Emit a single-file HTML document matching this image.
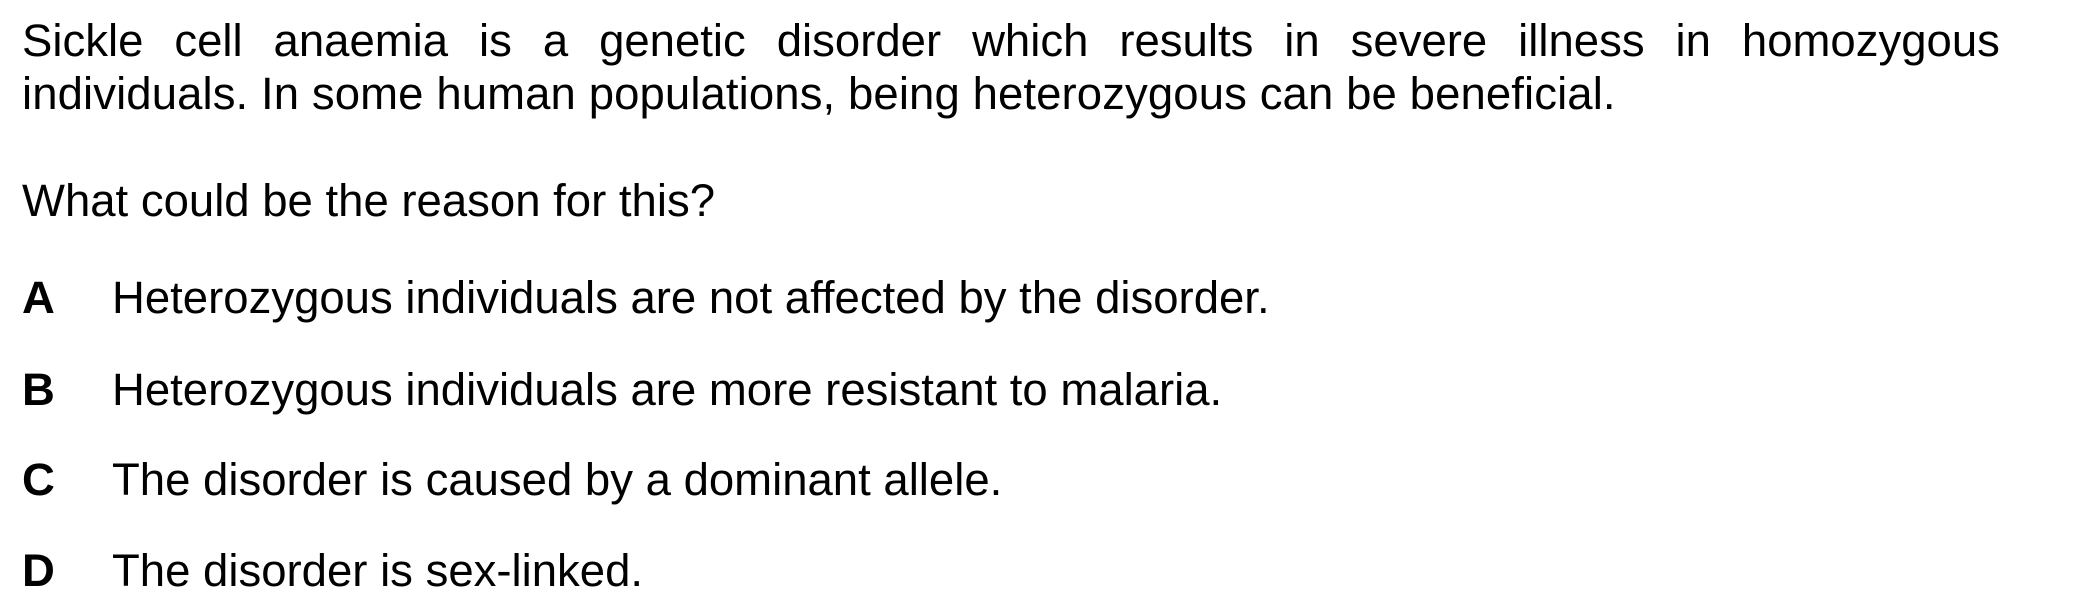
<!DOCTYPE html>
<html><head><meta charset="utf-8"><style>
html,body{margin:0;padding:0;background:#fff;}
body{width:2099px;height:611px;position:relative;overflow:hidden;font-family:"Liberation Sans",Arial,sans-serif;font-size:45.5px;color:#000;}
.t{position:absolute;white-space:nowrap;line-height:1;}
.p{position:absolute;left:22px;width:1978px;white-space:nowrap;line-height:1;}
.l{position:absolute;left:22px;font-weight:bold;line-height:1;}
.o{position:absolute;left:112px;line-height:1;white-space:nowrap;}
</style></head><body>
<div class="p" style="top:18px;display:flex;justify-content:space-between"><span>Sickle</span><span>cell</span><span>anaemia</span><span>is</span><span>a</span><span>genetic</span><span>disorder</span><span>which</span><span>results</span><span>in</span><span>severe</span><span>illness</span><span>in</span><span>homozygous</span></div>
<div class="t" style="left:22px;top:71px;letter-spacing:0.1px">individuals. In some human populations, being heterozygous can be beneficial.</div>
<div class="t" style="left:22px;top:178px">What could be the reason for this?</div>
<div><div class="l" style="top:275px">A</div><div class="o" style="top:275px">Heterozygous individuals are not affected by the disorder.</div></div>
<div><div class="l" style="top:367px">B</div><div class="o" style="top:367px">Heterozygous individuals are more resistant to malaria.</div></div>
<div><div class="l" style="top:457px">C</div><div class="o" style="top:457px">The disorder is caused by a dominant allele.</div></div>
<div><div class="l" style="top:548px">D</div><div class="o" style="top:548px">The disorder is sex-linked.</div></div>
</body></html>
